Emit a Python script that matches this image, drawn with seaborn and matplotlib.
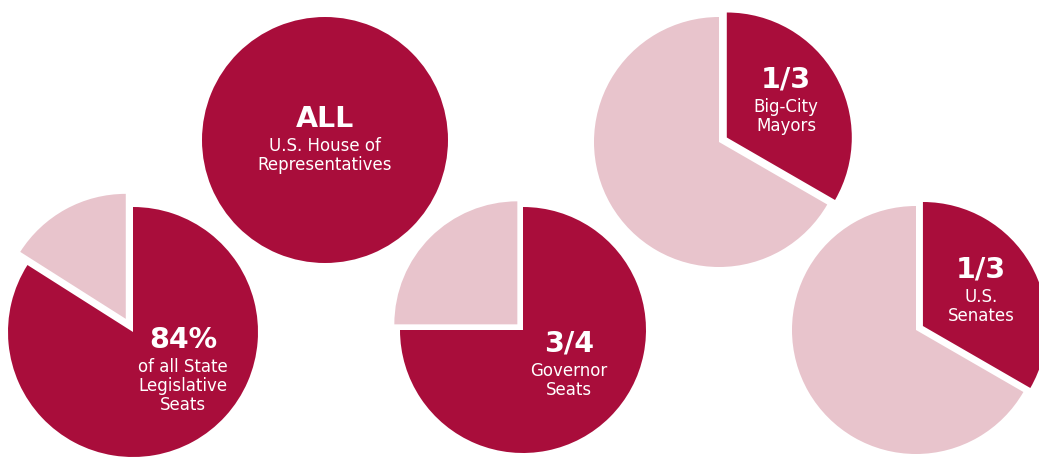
import matplotlib
matplotlib.use("Agg")
import matplotlib.pyplot as plt
import seaborn as sns

sns.set_theme(style="white")
plt.rcParams['font.family'] = ['DejaVu Sans']

# ---- data ----
categories = ["State Legislative Seats", "U.S. House of Representatives",
              "Governor Seats", "Big-City Mayors", "U.S. Senates"]
share_held = [84.0, 100.0, 75.0, 100 / 3, 100 / 3]
headline = ["84%", "ALL", "3/4", "1/3", "1/3"]
subtitle = [["of all State", "Legislative", "Seats"],
            ["U.S. House of", "Representatives"],
            ["Governor", "Seats"],
            ["Big-City", "Mayors"],
            ["U.S.", "Senates"]]

# ---- layout (pixel coords, y from top) ----
W, H = 1039, 457
centers = [(133, 332), (325, 140), (523, 330), (719, 142), (916, 330)]
radii = [125, 123, 123, 125, 124]
explode_held = [0, 0, 0, 9, 8]
explode_rest = [15, 0, 8, 0, 0]
text_pos = [(183, 340), (325, 119), (569, 344), (786, 80), (981, 270)]

dark, light = sns.color_palette(["#A90D3B", "#E8C4CC"])

fig = plt.figure(figsize=(W / 100, H / 100), dpi=100)
ax = fig.add_axes([0, 0, 1, 1])

for i, val in enumerate(share_held):
    cx, cy = centers[i]
    if val >= 100:
        vals, cols, expl = [val], [dark], [0]
    else:
        vals, cols, expl = [val, 100 - val], [dark, light], [explode_held[i], explode_rest[i]]
    ax.pie(vals, colors=cols, explode=expl, center=(cx, H - cy), radius=radii[i],
           startangle=90, counterclock=False, frame=True,
           wedgeprops=dict(linewidth=0, antialiased=True))

for i, (tx, ty) in enumerate(text_pos):
    ax.text(tx, H - ty, headline[i], ha="center", va="center", color="white",
            fontsize=20.5, fontweight="bold")
    for j, line in enumerate(subtitle[i]):
        ax.text(tx, H - (ty + 27 + 19 * j), line, ha="center", va="center",
                color="white", fontsize=12)

ax.set_xlim(0, W)
ax.set_ylim(0, H)
ax.set_aspect("equal")
ax.axis("off")
fig.savefig("out.png", dpi=100, facecolor="white")
